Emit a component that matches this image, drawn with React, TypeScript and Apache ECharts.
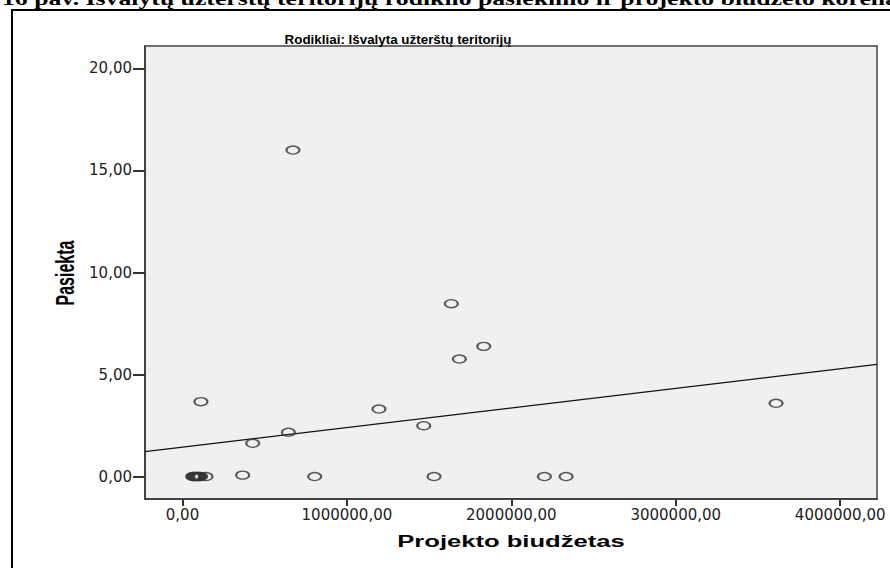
import React, { useEffect, useRef } from "react";
import * as echarts from "echarts";

// Budget (x) and achieved value (y) for each project
const budget = [
  62000, 68000, 74000, 80000, 86000, 92000, 98000, 104000, 110000, 143000,
  112000, 427000, 366000, 644000, 804000, 1195000, 1467000, 1530000,
  2201000, 2333000, 3610000, 672000, 1635000, 1684000, 1832000,
];
const achieved = [
  0, 0, 0, 0, 0, 0, 0, 0, 0, 0,
  3.67, 1.63, 0.07, 2.17, 0, 3.31, 2.49, 0,
  0, 0, 3.59, 16.0, 8.47, 5.76, 6.38,
];

// Fit line endpoints
const fitX = [-228000, 4224000];
const fitY = [1.22, 5.5];

const xTicks = [0, 1000000, 2000000, 3000000, 4000000];
const yTicks = [0, 5, 10, 15, 20];

const captionText =
  "16 pav. Išvalytų užterštų teritorijų rodiklio pasiekimo ir projekto biudžeto koreliacija";
const chartTitle = "Rodikliai: Išvalyta užterštų teritorijų";
const xName = "Projekto biudžetas";
const yName = "Pasiekta";

const fmt = (v: number) => v.toFixed(2).replace(".", ",");

export default function App() {
  const ref = useRef<HTMLDivElement>(null);
  useEffect(() => {
    if (!ref.current) return;
    const chart = echarts.init(ref.current, null, { renderer: "svg" });
    const points = budget.map((b, i) => [b, achieved[i]]);
    const fit = fitX.map((x, i) => [x, fitY[i]]);
    chart.setOption({
      animation: false,
      backgroundColor: "#ffffff",
      grid: {
        left: 145,
        right: 13,
        top: 46,
        bottom: 69,
        show: true,
        backgroundColor: "#f0f0f0",
        borderColor: "#707070",
        borderWidth: 2,
      },
      xAxis: {
        type: "value",
        min: -228000,
        max: 4224000,
        axisLine: { onZero: false, lineStyle: { color: "#444", width: 2 } },
        axisTick: {
          show: true,
          length: 7,
          customValues: xTicks,
          lineStyle: { color: "#333", width: 2 },
        },
        axisLabel: {
          customValues: xTicks,
          formatter: fmt,
          fontFamily: "DejaVu Sans",
          fontSize: 15,
          color: "#222",
          margin: 8,
        },
        splitLine: { show: false },
      },
      yAxis: {
        type: "value",
        min: -1.1,
        max: 21.1,
        axisLine: { show: true, onZero: false, lineStyle: { color: "#444", width: 2 } },
        axisTick: {
          show: true,
          length: 12,
          customValues: yTicks,
          lineStyle: { color: "#333", width: 2 },
        },
        axisLabel: {
          customValues: yTicks,
          formatter: fmt,
          fontFamily: "DejaVu Sans",
          fontSize: 15,
          color: "#222",
          margin: 13,
        },
        splitLine: { show: false },
      },
      graphic: [
        {
          type: "rect",
          shape: { x: 12, y: 10, width: 900, height: 600 },
          style: { fill: "none", stroke: "#000", lineWidth: 2 },
          silent: true,
        },
        {
          type: "text",
          x: 2,
          y: 8,
          scaleX: 1.43,
          style: {
            text: captionText,
            font: "bold 18px 'Liberation Serif'",
            fill: "#000",
            align: "left",
            verticalAlign: "bottom",
          },
          silent: true,
        },
        {
          type: "text",
          x: 398,
          y: 40,
          scaleX: 1.03,
          style: {
            text: chartTitle,
            font: "bold 13px 'Liberation Sans'",
            fill: "#000",
            align: "center",
            verticalAlign: "middle",
          },
          silent: true,
        },
        {
          type: "text",
          x: 511,
          y: 542,
          scaleX: 1.6,
          style: {
            text: xName,
            font: "bold 16px 'Liberation Sans'",
            fill: "#000",
            align: "center",
            verticalAlign: "middle",
          },
          silent: true,
        },
        {
          type: "text",
          x: 65,
          y: 273,
          rotation: Math.PI / 2,
          scaleY: 1.65,
          style: {
            text: yName,
            font: "bold 16px 'Liberation Sans'",
            fill: "#000",
            align: "center",
            verticalAlign: "middle",
          },
          silent: true,
        },
      ],
      series: [
        {
          type: "line",
          data: fit,
          symbol: "none",
          lineStyle: { color: "#111", width: 1.2 },
          silent: true,
          z: 2,
        },
        {
          type: "scatter",
          data: points,
          symbol: "circle",
          symbolSize: [13, 8],
          itemStyle: {
            color: "rgba(0,0,0,0)",
            borderColor: "#333",
            borderWidth: 1.7,
          },
          z: 3,
        },
      ],
    });
    return () => chart.dispose();
  }, []);
  return (
    <div
      ref={ref}
      style={{ position: "absolute", left: 0, top: 0, width: 890, height: 568, background: "#fff" }}
    />
  );
}
